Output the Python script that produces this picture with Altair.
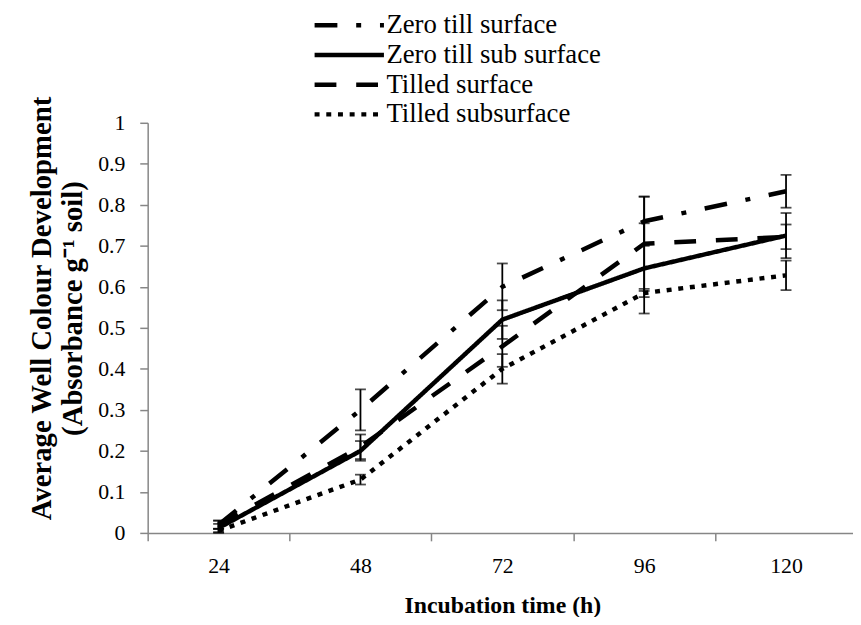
import altair as alt
import pandas as pd

hours = ["24", "48", "72", "96", "120"]
series = ["Zero till surface", "Zero till sub surface", "Tilled surface", "Tilled subsurface"]

zt_surface = [0.02, 0.30, 0.60, 0.76, 0.833]
zt_sub = [0.012, 0.20, 0.52, 0.645, 0.725]
t_surface = [0.02, 0.21, 0.455, 0.705, 0.722]
t_sub = [0.005, 0.13, 0.40, 0.585, 0.628]

zt_surface_err = [0.01, 0.05, 0.057, 0.06, 0.04]
zt_sub_err = [0.01, 0.024, 0.047, 0.11, 0.055]
t_surface_err = [0.01, 0.03, 0.05, 0.115, 0.03]
t_sub_err = [0.005, 0.012, 0.036, 0.01, 0.036]

y_ticks = [0, 0.1, 0.2, 0.3, 0.4, 0.5, 0.6, 0.7, 0.8, 0.9, 1]
dashes = [[23, 19, 5, 19], [1, 0], [22, 20], [5, 6.8]]

rows = []
for name, vals, errs in zip(series,
                            [zt_surface, zt_sub, t_surface, t_sub],
                            [zt_surface_err, zt_sub_err, t_surface_err, t_sub_err]):
    for h, v, e in zip(hours, vals, errs):
        rows.append({"hour": h, "series": name, "value": v,
                     "lo": max(v - e, 0), "hi": v + e})
df = pd.DataFrame(rows)

FONT = "Liberation Serif"
NB = "\u00a0"

x_enc = alt.X(
    "hour:N", sort=hours,
    scale=alt.Scale(type="band", domain=hours, range=[0, 716], paddingInner=0, paddingOuter=0),
    axis=alt.Axis(title="Incubation time (h)", tickBand="extent", labelAngle=0,
                  labelPadding=15, titleY=80, titleBaseline="alphabetic", titleFontSize=24),
)
y_scale = alt.Scale(domain=[0, 1], nice=False, zero=True)

base = alt.Chart(df)

lines = base.mark_line(color="black", strokeWidth=4.5, strokeCap="butt", strokeJoin="round").encode(
    x=x_enc,
    y=alt.Y("value:Q", scale=y_scale,
            axis=alt.Axis(values=y_ticks, format="~g", labelPadding=15,
                          title=["Average Well Colour Development",
                                 NB * 13 + "(Absorbance g\u207b\u00b9 soil)"],
                          titleAngle=270, titleAlign="center", titleBaseline="middle",
                          titleFontSize=29, titleX=-107, titleY=187, titleLineHeight=31)),
    strokeDash=alt.StrokeDash(
        "series:N",
        scale=alt.Scale(domain=series, range=dashes),
        legend=alt.Legend(title=None, orient="none", legendX=190, legendY=-112,
                          symbolType="M-5,0H5", symbolSize=196, symbolStrokeWidth=4.5,
                          symbolStrokeColor="black", labelFont=FONT, labelFontSize=27,
                          labelColor="black", labelOffset=24, rowPadding=2, padding=0,
                          labelLimit=0),
    ),
    detail="series:N",
)

rules = base.mark_rule(color="black", strokeWidth=1.8).encode(
    x=alt.X("hour:N", sort=hours),
    y=alt.Y("lo:Q", scale=y_scale),
    y2="hi:Q",
)
cap_lo = base.mark_tick(color="black", thickness=1.8, size=11, orient="horizontal").encode(
    x=alt.X("hour:N", sort=hours),
    y=alt.Y("lo:Q", scale=y_scale),
)
cap_hi = base.mark_tick(color="black", thickness=1.8, size=11, orient="horizontal").encode(
    x=alt.X("hour:N", sort=hours),
    y=alt.Y("hi:Q", scale=y_scale),
)

chart = alt.layer(lines, rules, cap_lo, cap_hi).properties(
    width=712, height=414,
    background="white",
    autosize=alt.AutoSizeParams(type="none"),
    padding={"left": 141, "top": 113, "right": 0, "bottom": 82},
).configure(font=FONT).configure_view(stroke=None).configure_axis(
    grid=False,
    domainColor="#868686", domainWidth=1.5,
    tickColor="#868686", tickWidth=1.5, tickSize=8,
    labelFont=FONT, labelFontSize=22, labelColor="black",
    titleFont=FONT, titleFontWeight="bold", titleColor="black",
).configure_legend(labelFont=FONT, labelFontSize=27, labelColor="black")

chart.save("out.html", embed_options={"renderer": "svg", "actions": False})
